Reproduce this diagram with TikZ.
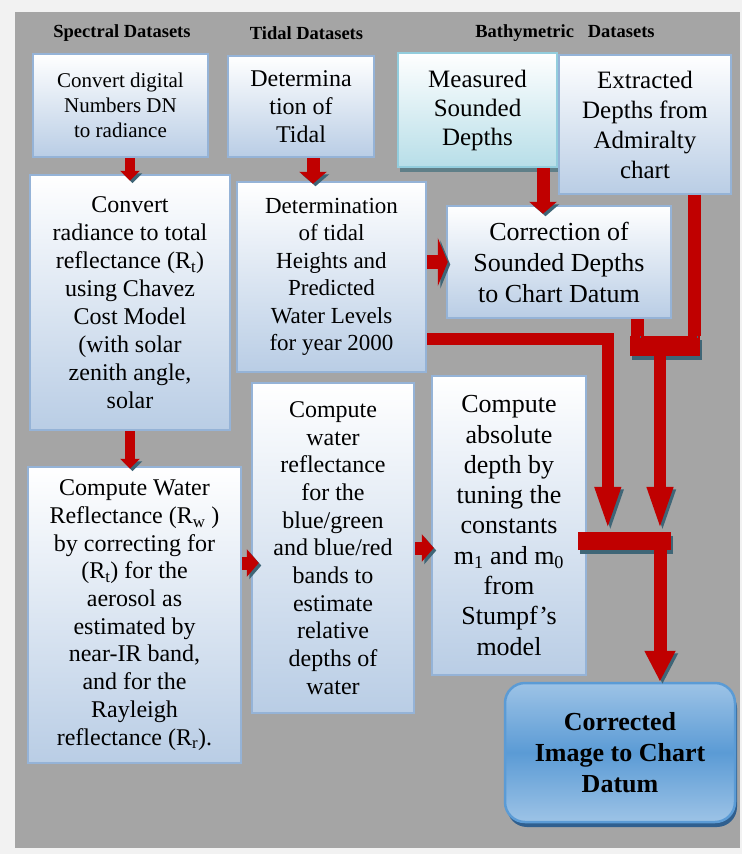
\documentclass[tikz,border=0pt]{standalone}
\usepackage{fontspec}
\setmainfont{Liberation Serif}
\usepackage{tikz}
\usetikzlibrary{positioning, calc, arrows.meta, shadows}

\definecolor{outerbg}{HTML}{F2F2F2}
\definecolor{panelgrey}{HTML}{A5A5A5}
\definecolor{boxedge}{HTML}{95B3D7}
\definecolor{boxfill}{HTML}{B9CDE5}
\definecolor{sondedge}{HTML}{93CDDD}
\definecolor{sondfill}{HTML}{B7DEE8}
\definecolor{sondshade}{HTML}{5F7F88}
\definecolor{outtop}{HTML}{9DC3E6}
\definecolor{outmid}{HTML}{5B9BD5}
\definecolor{outshade}{HTML}{2F5F8F}
\definecolor{arrred}{HTML}{C00000}
\definecolor{arrshade}{HTML}{3F6677}

\newcommand{\fsz}[2]{\fontsize{#1}{#2}\selectfont}

\begin{document}
\begin{tikzpicture}[
  x=1pt, y=-1pt,
  col head/.style = {font=\bfseries\fsz{18.5}{22}},
  box/.style      = {draw=boxedge, line width=2.5pt, top color=white, bottom color=boxfill,
                     align=center, inner sep=0pt},
  sond/.style     = {box, draw=sondedge, bottom color=sondfill,
                     drop shadow={shadow xshift=2pt, shadow yshift=-5pt, fill=sondshade, opacity=1}},
  result/.style   = {draw=outmid, line width=2.5pt, rounded corners=20pt, top color=outtop,
                     bottom color=outtop, middle color=outmid, align=center, inner sep=0pt,
                     font=\bfseries\fsz{26}{31},
                     drop shadow={shadow xshift=2pt, shadow yshift=-5pt, fill=outshade, opacity=1}},
  redbar/.style   = {fill=arrred, inner sep=0pt,
                     drop shadow={shadow xshift=2pt, shadow yshift=-4pt, fill=arrshade, opacity=1}},
  link/.style     = {draw=arrred, line width=13pt,
                     preaction={draw=arrshade, transform canvas={shift={(2.5pt,-2.5pt)}}}},
  arr/.style      = {link, line width=10pt, -{Triangle[length=10pt,width=19pt]}},
  blockarr/.style = {link, -{Triangle[length=12pt,width=27pt]}},
  widearr/.style  = {link, line width=14pt, -{Triangle[length=10pt,width=48pt]}},
  longarr/.style  = {link, line width=12pt, -{Triangle[length=45pt,width=23pt]}},
  bigarr/.style   = {link, -{Triangle[length=31pt,width=29pt]}},
]
\useasboundingbox (0,0) rectangle (742,854);
\fill[outerbg]   (0,0)   rectangle (742,854);
\fill[panelgrey] (15,12) rectangle (740,848);

% =============================================================
% Column headers
% =============================================================
\node[col head] (h1) at (122,33)   {Spectral Datasets};
\node[col head] (h2) at (306.5,33) {Tidal Datasets};
\node[col head] (h3) at (565,33)   {Bathymetric\ \ \ Datasets};

% =============================================================
% Spectral column
% =============================================================
\node[box, minimum width=175pt, minimum height=103pt, font=\fsz{21}{25}] (s1) at (120.5,105.5)
  {Convert digital\\Numbers DN\\to radiance};
\node[box, minimum width=200pt, minimum height=255pt, font=\fsz{24}{28}] (s2) at (130,302.5)
  {Convert\\radiance to total\\reflectance (R\textsubscript{t})\\using Chavez\\Cost Model\\(with solar\\zenith angle,\\solar};
\node[box, minimum width=213pt, minimum height=296pt, font=\fsz{24}{27.7}] (s3) at (134.5,615)
  {Compute Water\\Reflectance (R\textsubscript{w} )\\by correcting for\\(R\textsubscript{t}) for the\\aerosol as\\estimated by\\near-IR band,\\and for the\\Rayleigh\\reflectance (R\textsubscript{r}).};
\node[box, minimum width=162pt, minimum height=330pt, font=\fsz{24}{27.7}] (s4) at (333,548)
  {Compute\\water\\reflectance\\for the\\blue/green\\and blue/red\\bands to\\estimate\\relative\\depths of\\water};
\node[box, minimum width=154pt, minimum height=299pt, font=\fsz{26}{30.3}] (s5) at (509,525.5)
  {Compute\\absolute\\depth by\\tuning the\\constants\\m\textsubscript{1} and m\textsubscript{0}\\from\\Stumpf’s\\model};

% =============================================================
% Tidal column
% =============================================================
\node[box, minimum width=146pt, minimum height=101pt, font=\fsz{24}{28}] (t1) at (301,106.5)
  {Determina\\tion of\\Tidal};
\node[box, minimum width=189pt, minimum height=190pt, font=\fsz{23}{27.5}] (t2) at (331.5,277)
  {Determination\\of tidal\\Heights and\\Predicted\\Water Levels\\for year 2000};

% =============================================================
% Bathymetric column
% =============================================================
\node[sond, minimum width=159pt, minimum height=114pt, font=\fsz{25}{29}] (b1) at (477.5,110)
  {Measured\\Sounded\\Depths};
\node[box, minimum width=172pt, minimum height=139pt, font=\fsz{25}{30}] (b2) at (645,124.5)
  {Extracted\\Depths from\\Admiralty\\chart};
\node[box, minimum width=224pt, minimum height=112pt, font=\fsz{26}{31}] (b3) at (559,262)
  {Correction of\\Sounded Depths\\to Chart Datum};

% Result
\node[result, minimum width=230pt, minimum height=139pt] (out) at (620,752.5)
  {Corrected\\Image to Chart\\Datum};

% Junction bars
\node[redbar, minimum width=70pt, minimum height=20pt] (merge)  at (665,346) {};
\node[redbar, minimum width=93pt, minimum height=18pt] (sumbar) at (624.5,541) {};

% =============================================================
% Connectors
% =============================================================
\draw[arr]      (s1.south -| s2.north) -- ([yshift=-7pt]s2.north);
\draw[arr]      (s2.south) -- ([yshift=-3pt]s2.south |- s3.north);
\coordinate (ih) at ([yshift=52pt]s3.east);
\draw[blockarr] (ih) -- ([xshift=8pt]ih -| s4.west);
\draw[blockarr] (s4.east) -- ([xshift=3pt]s4.east -| s5.west);

\coordinate (tt) at ([xshift=12pt]t1.south);
\draw[blockarr] (tt) -- ([yshift=-3pt]tt |- t2.north);
\draw[widearr]  (b3.west -| t2.east) -- ([xshift=2pt]b3.west);
\coordinate (bb) at ([xshift=-16pt]b3.north);
\draw[blockarr] (b1.south -| bb) -- ([yshift=-9pt]bb);

% drops into the merge bar, then on to the summing bar
\coordinate (gdrop) at ([xshift=-35pt]b3.south east);
\coordinate (ddrop) at ([xshift=-37.5pt]b2.south east);
\draw[link] (gdrop) -- (gdrop |- merge.north);
\draw[link] (ddrop) -- (ddrop |- merge.north);
\coordinate (mtrunk) at ([xshift=-5pt]merge.south);
\draw[longarr] (mtrunk) -- (mtrunk |- sumbar.north);
\coordinate (fout) at ([yshift=34pt]t2.south east);
\draw[longarr] (fout) -| ([xshift=30pt]sumbar.north west);
\draw[bigarr]  (mtrunk |- sumbar.south) -- (mtrunk |- out.north);

\end{tikzpicture}
\end{document}
